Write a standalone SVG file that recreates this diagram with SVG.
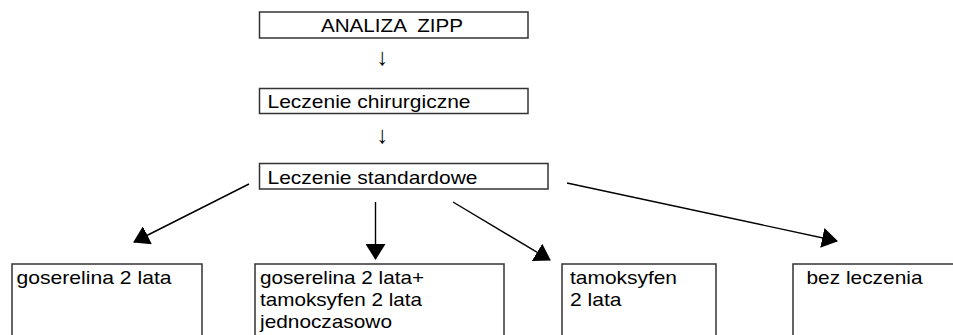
<svg xmlns="http://www.w3.org/2000/svg" width="953" height="335" viewBox="0 0 953 335">
<style>
.box{fill:#fff;stroke:#333;stroke-width:1.5}
.t{font-family:"Liberation Sans",Arial,sans-serif;font-size:19px;fill:#000;white-space:pre}
.ar{font-family:"Liberation Sans",Arial,sans-serif;font-size:24px;fill:#000}
.c{stroke:#000;stroke-width:1.4;fill:none;marker-end:url(#ah)}
</style>
<defs>
<marker id="ah" markerUnits="userSpaceOnUse" markerWidth="16" markerHeight="20" refX="15" refY="10" orient="auto">
<path d="M0,0 L16,10 L0,20 Z" fill="#000"/>
</marker>
</defs>
<rect width="953" height="335" fill="#fff"/>
<g id="n-analiza">
<rect class="box" x="259.5" y="12" width="268.5" height="26"/>
<text class="t" x="321" y="31.5" textLength="142" lengthAdjust="spacingAndGlyphs">ANALIZA  ZIPP</text>
</g>
<g id="n-chirurgiczne">
<rect class="box" x="259.5" y="88.5" width="268.5" height="25"/>
<text class="t" x="267.5" y="108" textLength="203" lengthAdjust="spacingAndGlyphs">Leczenie chirurgiczne</text>
</g>
<g id="n-standardowe">
<rect class="box" x="259.5" y="163.5" width="288.5" height="25.5"/>
<text class="t" x="267.5" y="183.5" textLength="210" lengthAdjust="spacingAndGlyphs">Leczenie standardowe</text>
</g>
<g id="n-goserelina">
<rect class="box" x="12" y="264" width="190" height="80"/>
<text class="t" x="16.5" y="284" textLength="155" lengthAdjust="spacingAndGlyphs">goserelina 2 lata</text>
</g>
<g id="n-gos-tam">
<rect class="box" x="255" y="264" width="249" height="80"/>
<text class="t" x="260" y="284" textLength="164" lengthAdjust="spacingAndGlyphs">goserelina 2 lata+</text>
<text class="t" x="260" y="306" textLength="162" lengthAdjust="spacingAndGlyphs">tamoksyfen 2 lata</text>
<text class="t" x="260" y="328" textLength="132" lengthAdjust="spacingAndGlyphs">jednoczasowo</text>
</g>
<g id="n-tamoksyfen">
<rect class="box" x="562" y="264" width="154" height="80"/>
<text class="t" x="570" y="284" textLength="107" lengthAdjust="spacingAndGlyphs">tamoksyfen</text>
<text class="t" x="570" y="306" textLength="51.5" lengthAdjust="spacingAndGlyphs">2 lata</text>
</g>
<g id="n-bez">
<rect class="box" x="793" y="264" width="170" height="80"/>
<text class="t" x="806.5" y="284" textLength="116" lengthAdjust="spacingAndGlyphs">bez leczenia</text>
</g>
<g id="connectors">
<text class="ar" x="382.5" y="65" text-anchor="middle">↓</text>
<text class="ar" x="382.5" y="142.5" text-anchor="middle">↓</text>
<line class="c" x1="249" y1="184" x2="134" y2="242"/>
<line class="c" x1="375.5" y1="202" x2="375.5" y2="259"/>
<line class="c" x1="453" y1="202" x2="550" y2="260"/>
<line class="c" x1="567" y1="183" x2="837" y2="241"/>
</g>
</svg>
